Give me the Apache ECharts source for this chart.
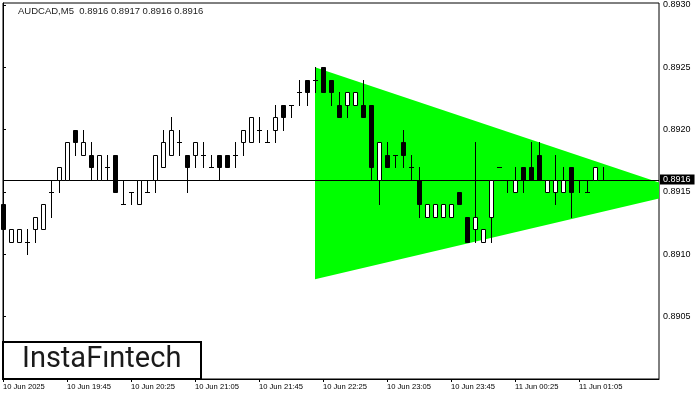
<!DOCTYPE html>
<html><head><meta charset="utf-8">
<script src="https://cdn.jsdelivr.net/npm/echarts@6/dist/echarts.min.js"></script>
<style>html,body{margin:0;padding:0;background:#fff}#c{width:700px;height:400px}</style>
</head><body><div id="c"></div>
<script>
// Candle OHLC values (M5, AUDCAD), one per bar, index 0 = 10 Jun 19:05
const opens  = [0.8914,0.8911,0.8911,0.8911,0.8912,0.8912,0.8915,0.8916,0.8916,0.8920,
                0.8918,0.8918,0.8916,0.8917,0.8918,0.8914,0.8915,0.8914,0.8915,0.8916,
                0.8917,0.8918,0.8919,0.8918,0.8918,0.8918,0.8917,0.8918,0.8918,0.8918,
                0.8919,0.8919,0.8920,0.8919,0.8920,0.8922,0.8922,0.8923,0.8924,0.8924,
                0.8925,0.8924,0.8922,0.8922,0.8922,0.8922,0.8922,0.8916,0.8918,0.8918,
                0.8919,0.8917,0.8916,0.8913,0.8913,0.8913,0.8913,0.8915,0.8913,0.8912,
                0.8911,0.8913,0.8917,0.8916,0.8915,0.8917,0.8917,0.8918,0.8915,0.8915,
                0.8915,0.8917,0.8916,0.8915,0.8916,0.8916];
const highs  = [0.8915,0.8912,0.8912,0.8912,0.8913,0.8914,0.8916,0.8917,0.8919,0.8920,
                0.8920,0.8919,0.8918,0.8918,0.8918,0.8916,0.8915,0.8916,0.8916,0.8918,
                0.8920,0.8921,0.8920,0.8918,0.8919,0.8919,0.8918,0.8918,0.8918,0.8919,
                0.8920,0.8921,0.8921,0.8920,0.8922,0.8922,0.8922,0.8924,0.8924,0.8925,
                0.8925,0.8924,0.8923,0.8923,0.8923,0.8924,0.8922,0.8919,0.8919,0.8918,
                0.8920,0.8918,0.8917,0.8914,0.8914,0.8914,0.8914,0.8915,0.8913,0.8919,
                0.8912,0.8916,0.8917,0.8916,0.8917,0.8917,0.8919,0.8919,0.8916,0.8918,
                0.8917,0.8917,0.8916,0.8916,0.8917,0.8917];
const lows   = [0.8912,0.8911,0.8911,0.8910,0.8911,0.8912,0.8913,0.8915,0.8916,0.8918,
                0.8918,0.8916,0.8916,0.8916,0.8915,0.8914,0.8914,0.8914,0.8915,0.8915,
                0.8917,0.8918,0.8918,0.8915,0.8917,0.8917,0.8917,0.8916,0.8917,0.8917,
                0.8918,0.8919,0.8919,0.8919,0.8919,0.8920,0.8921,0.8922,0.8922,0.8923,
                0.8923,0.8922,0.8921,0.8921,0.8922,0.8921,0.8916,0.8914,0.8917,0.8917,
                0.8917,0.8916,0.8913,0.8913,0.8913,0.8913,0.8913,0.8914,0.8911,0.8911,
                0.8911,0.8911,0.8917,0.8915,0.8915,0.8915,0.8916,0.8916,0.8915,0.8914,
                0.8915,0.8913,0.8915,0.8915,0.8916,0.8916];
const closes = [0.8912,0.8912,0.8912,0.8911,0.8913,0.8914,0.8915,0.8917,0.8919,0.8919,
                0.8919,0.8917,0.8918,0.8917,0.8915,0.8914,0.8915,0.8916,0.8915,0.8918,
                0.8919,0.8920,0.8919,0.8917,0.8919,0.8918,0.8917,0.8917,0.8917,0.8918,
                0.8920,0.8921,0.8920,0.8919,0.8921,0.8921,0.8922,0.8923,0.8923,0.8924,
                0.8923,0.8923,0.8921,0.8923,0.8923,0.8921,0.8917,0.8919,0.8917,0.8918,
                0.8918,0.8917,0.8914,0.8914,0.8914,0.8914,0.8914,0.8914,0.8911,0.8913,
                0.8912,0.8916,0.8917,0.8916,0.8916,0.8916,0.8916,0.8916,0.8916,0.8916,
                0.8916,0.8915,0.8916,0.8915,0.8917,0.8916];
// Time-axis ticks (bar index) and their labels
const timeTicks  = [0, 8, 16, 24, 32, 40, 48, 56, 64, 72];
const timeLabels = ['10 Jun 2025','10 Jun 19:45','10 Jun 20:25','10 Jun 21:05','10 Jun 21:45',
                    '10 Jun 22:25','10 Jun 23:05','10 Jun 23:45','11 Jun 00:25','11 Jun 01:05'];
// Price-axis ticks
const priceTicks = [0.8905, 0.8910, 0.8915, 0.8920, 0.8925, 0.8930];
// Symmetrical triangle pattern vertices (bar index, price)
const triX = [39, 39, 85.5];
const triY = [0.8925, 0.8908, 0.8915];
// Current price
const lastPrice = 0.8916;
const titleText = 'AUDCAD,M5  0.8916 0.8917 0.8916 0.8916';

const candleData = opens.map((o, i) => [i, o, highs[i], lows[i], closes[i]]);

function renderCandle(params, api) {
  const i = api.value(0), o = api.value(1), h = api.value(2), l = api.value(3), c = api.value(4);
  const pH = api.coord([i, h]), pL = api.coord([i, l]);
  const pO = api.coord([i, o]), pC = api.coord([i, c]);
  const cx = Math.round(pH[0]) + 0.5;
  const yH = Math.round(pH[1]), yL = Math.round(pL[1]);
  const yO = Math.round(pO[1]), yC = Math.round(pC[1]);
  const children = [];
  if (yL > yH) {
    children.push({type: 'line', shape: {x1: cx, y1: yH, x2: cx, y2: yL + 1},
      style: {stroke: '#000', lineWidth: 1}});
  }
  const top = Math.min(yO, yC), bot = Math.max(yO, yC);
  if (bot === top) {
    children.push({type: 'line', shape: {x1: cx - 2.5, y1: top + 0.5, x2: cx + 2.5, y2: top + 0.5},
      style: {stroke: '#000', lineWidth: 1}});
  } else {
    const bull = c > o;
    children.push({type: 'rect', shape: {x: cx - 2, y: top + 0.5, width: 4, height: bot - top},
      style: {fill: bull ? '#fff' : '#000', stroke: '#000', lineWidth: 1}});
  }
  return {type: 'group', children};
}

function renderTriangle(params, api) {
  const pts = triX.map((x, k) => api.coord([x, triY[k]]));
  return {type: 'polygon', shape: {points: pts}, style: {fill: '#00ff00', stroke: null}};
}

function renderPriceLine(params, api) {
  const a = api.coord([0, lastPrice]);
  const cs = params.coordSys;
  const y = Math.round(a[1]) + 0.5;
  return {type: 'group', children: [
    {type: 'line', shape: {x1: cs.x, y1: y, x2: cs.x + cs.width, y2: y},
      style: {stroke: '#000', lineWidth: 1}},
    {type: 'text', x: cs.x + cs.width + 1, y: y - 6,
      style: {text: lastPrice.toFixed(4), font: '9px "Liberation Sans"', fill: '#fff',
        backgroundColor: '#000', padding: [1, 4, 0, 3]}}
  ]};
}

const chart = echarts.init(document.getElementById('c'), null, {renderer: 'canvas'});
chart.setOption({
  animation: false,
  backgroundColor: '#fff',
  grid: {left: 3, right: 41, top: 3, bottom: 21, show: true, borderColor: '#000', borderWidth: 1, backgroundColor: 'transparent'},
  xAxis: {
    type: 'value', min: 0, max: 82,
    splitLine: {show: false},
    axisLine: {show: true, lineStyle: {color: '#000'}},
    axisTick: {show: true, length: 3, lineStyle: {color: '#000'}, customValues: timeTicks},
    axisLabel: {customValues: timeTicks, align: 'left', margin: 4, color: '#000',
      fontFamily: 'Liberation Sans', fontSize: 7.6,
      formatter: v => timeLabels[timeTicks.indexOf(Math.round(v))] || ''}
  },
  yAxis: {
    type: 'value', position: 'right', min: 0.8900, max: 0.893016, scale: true,
    splitLine: {show: false},
    axisLine: {show: true, lineStyle: {color: '#000'}},
    axisTick: {show: true, length: 3, lineStyle: {color: '#000'}, customValues: priceTicks},
    axisLabel: {customValues: priceTicks, margin: 4, color: '#000',
      fontFamily: 'Liberation Sans', fontSize: 9, formatter: v => v.toFixed(4)}
  },
  graphic: [
    {type: 'text', left: 18, top: 6, z: 100,
      style: {text: titleText, font: '9.5px "Liberation Sans"', fill: '#222'}},
    {type: 'rect', shape: {x: 3, y: 342, width: 198, height: 37}, z: 100,
      style: {fill: '#fff', stroke: '#000', lineWidth: 2}},
    {type: 'text', x: 22, y: 360, z: 101,
      style: {text: 'InstaF\u0131ntech', font: '29px Roboto', fill: '#1a1a1a', textVerticalAlign: 'middle'}}
  ],
  series: [
    {type: 'custom', name: 'pattern', data: [[0, 0]], renderItem: renderTriangle, clip: true, silent: true, z: 1},
    {type: 'custom', name: 'price', data: [[0, lastPrice]], renderItem: renderPriceLine, silent: true, z: 2},
    {type: 'custom', name: 'AUDCAD', data: candleData, renderItem: renderCandle,
      encode: {x: 0, y: [1, 2, 3, 4]}, z: 3, silent: true}
  ]
});
</script></body></html>
